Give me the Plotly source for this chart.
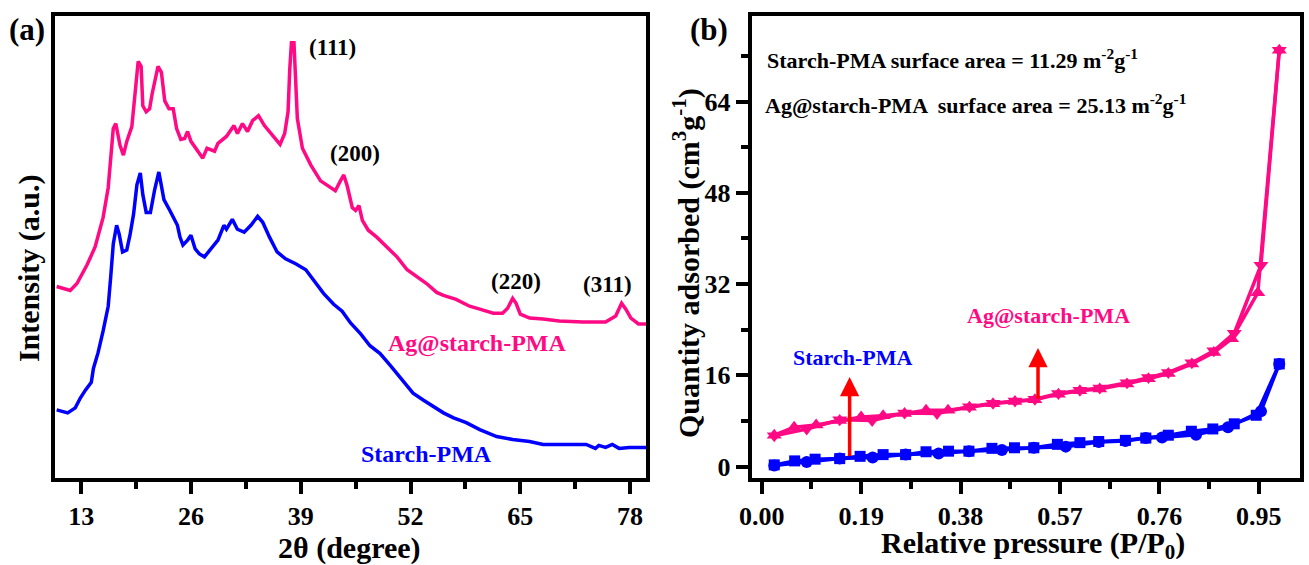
import plotly.graph_objects as go

# ---------------- (a) XRD data ----------------
xrd_ag_2theta = [10.1, 11.7, 12.5, 13.7, 14.65, 15.6, 16.2, 16.6, 16.8, 17.1, 17.6, 18.0, 18.4, 19.0, 19.4,
                 19.75, 20.1, 20.3, 20.7, 21.1, 21.4, 22.1, 22.5, 22.9, 23.4, 23.9, 24.3, 24.8, 25.25, 25.6,
                 26.0, 26.8, 27.4, 27.9, 28.8, 29.2, 30.2, 31.1, 31.5, 32.1, 32.7, 33.3, 34.0, 34.7, 35.85,
                 36.55, 37.1, 37.5, 37.7, 37.9, 38.2, 38.4, 38.6, 39.2, 40.2, 41.35, 42.3, 43.1, 43.7, 44.1,
                 44.5, 45.1, 45.5, 45.9, 46.3, 47.0, 48.0, 49.2, 50.4, 51.6, 52.7, 53.9, 55.1, 55.9, 57.4,
                 59.0, 60.2, 61.8, 62.9, 63.5, 64.1, 64.5, 65.0, 66.1, 67.7, 69.6, 72.4, 75.1, 76.3, 77.0,
                 77.5, 78.1, 79.0, 79.9]
xrd_ag_int = [190, 186, 193, 212, 230, 260, 290, 327, 350, 355, 333, 323, 337, 352, 383,
              418, 413, 373, 367, 370, 385, 413, 407, 378, 370, 370, 350, 339, 340, 347,
              337, 328, 320, 330, 327, 335, 342, 353, 345, 355, 347, 358, 363, 353, 342,
              334, 345, 367, 410, 437, 437, 393, 360, 330, 313, 297, 291, 287, 297, 303,
              292, 270, 267, 272, 257, 247, 240, 230, 220, 207, 200, 193, 184, 181, 177,
              170, 167, 163, 163, 168, 178, 173, 162, 158, 157, 155, 154, 154, 160, 173,
              167, 158, 152, 152]

xrd_st_2theta = [10.1, 10.7, 11.4, 12.3, 12.9, 13.5, 14.2, 14.45, 15.0, 15.6, 16.2, 16.5, 16.8, 17.2, 17.5,
                 17.9, 18.4, 18.8, 19.2, 19.6, 20.0, 20.3, 20.7, 21.2, 21.7, 22.2, 22.8, 23.5, 24.4, 24.7,
                 25.05, 25.6, 26.0, 26.5, 27.0, 27.6, 28.4, 29.2, 29.9, 30.2, 30.9, 31.5, 32.3, 33.1, 33.9,
                 34.5, 35.3, 36.2, 37.2, 38.4, 39.6, 40.8, 41.7, 42.9, 43.9, 44.9, 46.1, 47.2, 48.4, 49.6,
                 50.8, 51.6, 52.3, 53.5, 54.7, 55.9, 57.1, 58.6, 60.2, 62.2, 64.1, 66.1, 67.7, 70.0, 72.8,
                 73.9, 74.3, 75.1, 75.9, 76.7, 77.9, 79.9]
xrd_st_int = [65, 64, 62, 67, 77, 85, 93, 107, 123, 145, 170, 200, 233, 252, 243,
              225, 227, 243, 263, 293, 305, 283, 265, 265, 288, 306, 278, 267, 252, 240,
              232, 237, 242, 228, 223, 220, 228, 237, 252, 248, 258, 248, 245, 252, 261,
              255, 240, 225, 218, 213, 207, 193, 183, 172, 165, 153, 142, 130, 122, 110,
              98, 90, 82, 75, 68, 62, 57, 52, 45, 38, 35, 33, 30, 30, 30,
              26, 29, 27, 30, 26, 27, 27]

xrd_ticks = [13, 26, 39, 52, 65, 78]
hkl_labels = ["(111)", "(200)", "(220)", "(311)"]
hkl_x = [42.8, 45.45, 64.5, 75.3]
hkl_y = [432, 325, 195, 192]

# ---------------- (b) BET data ----------------
ag_ads_p = [0.024, 0.062, 0.104, 0.149, 0.190, 0.232, 0.273, 0.314, 0.356, 0.397, 0.442, 0.484, 0.522,
            0.567, 0.608, 0.646, 0.698, 0.739, 0.777, 0.822, 0.864, 0.898, 0.948, 0.989]
ag_ads_q = [5.5, 6.9, 7.3, 8.1, 8.7, 8.9, 9.3, 9.9, 9.9, 10.4, 11.0, 11.4, 11.7,
            12.7, 13.3, 13.6, 14.5, 15.4, 16.3, 18.0, 20.0, 22.4, 30.5, 73.0]
ag_des_p = [0.989, 0.954, 0.903, 0.864, 0.822, 0.777, 0.739, 0.698, 0.646, 0.608, 0.567, 0.522, 0.484,
            0.442, 0.397, 0.335, 0.273, 0.211, 0.149, 0.086, 0.024]
ag_des_q = [73.0, 35.3, 23.4, 20.3, 18.2, 16.5, 15.6, 14.7, 13.8, 13.4, 12.8, 11.8, 11.5,
            11.1, 10.5, 9.3, 9.4, 8.1, 8.2, 6.6, 5.4]

st_ads_p = [0.024, 0.063, 0.102, 0.149, 0.188, 0.232, 0.275, 0.314, 0.357, 0.396, 0.440, 0.483, 0.520,
            0.565, 0.608, 0.644, 0.695, 0.734, 0.777, 0.821, 0.862, 0.903, 0.945, 0.989]
st_ads_q = [0.3, 1.0, 1.3, 1.4, 1.8, 2.1, 2.1, 2.6, 2.7, 2.7, 3.2, 3.3, 3.3,
            3.9, 4.2, 4.4, 4.6, 5.0, 5.5, 6.2, 6.6, 7.5, 9.0, 18.0]
st_des_p = [0.989, 0.954, 0.891, 0.830, 0.765, 0.734, 0.695, 0.644, 0.581, 0.520, 0.459, 0.396, 0.338,
            0.275, 0.212, 0.149, 0.086, 0.024]
st_des_q = [18.0, 9.7, 6.9, 5.6, 5.1, 5.0, 4.5, 4.3, 3.5, 3.3, 2.9, 2.7, 2.3,
            2.1, 1.6, 1.4, 0.8, 0.2]

bet_yticks = [0, 16, 32, 48, 64]

# ---------------- styling ----------------
PINK = "#ff0a84"
BLUE = "#0000ff"
RED = "#ff0000"
FONT = "Liberation Serif"

W, H = 1309, 565
ML, MR, MT, MB = 55, 5, 16, 87
PW = W - ML - MR
PH = H - MT - MB


def px(xp):
    return (xp - ML) / PW


def py(yp):
    return (H - MB - yp) / PH


fig = go.Figure()

fig.add_trace(go.Scatter(x=xrd_ag_2theta, y=xrd_ag_int, mode="lines",
                         line=dict(color=PINK, width=3.5), xaxis="x", yaxis="y", showlegend=False))
fig.add_trace(go.Scatter(x=xrd_st_2theta, y=xrd_st_int, mode="lines",
                         line=dict(color=BLUE, width=3.5), xaxis="x", yaxis="y", showlegend=False))

fig.add_trace(go.Scatter(x=ag_ads_p, y=ag_ads_q, mode="lines+markers",
                         line=dict(color=PINK, width=3.5),
                         marker=dict(symbol="triangle-up", size=13, color=PINK),
                         xaxis="x2", yaxis="y2", showlegend=False))
fig.add_trace(go.Scatter(x=ag_des_p, y=ag_des_q, mode="lines+markers",
                         line=dict(color=PINK, width=3.5),
                         marker=dict(symbol="triangle-down", size=13, color=PINK),
                         xaxis="x2", yaxis="y2", showlegend=False))
fig.add_trace(go.Scatter(x=st_ads_p, y=st_ads_q, mode="lines+markers",
                         line=dict(color=BLUE, width=3.5),
                         marker=dict(symbol="square", size=11, color=BLUE),
                         xaxis="x2", yaxis="y2", showlegend=False))
fig.add_trace(go.Scatter(x=st_des_p, y=st_des_q, mode="lines+markers",
                         line=dict(color=BLUE, width=3.5),
                         marker=dict(symbol="circle", size=12, color=BLUE),
                         xaxis="x2", yaxis="y2", showlegend=False))

tickfont = dict(family=FONT, size=26, color="black", weight="bold")
axcommon = dict(showline=True, linewidth=4, linecolor="black", mirror=True, showgrid=False,
                zeroline=False, ticklen=12, tickwidth=3.5, tickcolor="black",
                tickfont=tickfont)
minor_common = dict(ticks="outside", ticklen=7, tickwidth=3.5, tickcolor="black")

fig.update_layout(
    width=W, height=H,
    margin=dict(l=ML, r=MR, t=MT, b=MB),
    paper_bgcolor="white", plot_bgcolor="white",
    xaxis=dict(domain=[0, px(648)], range=[9.9, 79.9], tickmode="array", tickvals=xrd_ticks,
               ticks="outside", minor=dict(tick0=6.5, dtick=13, **minor_common),
               anchor="y", **axcommon),
    yaxis=dict(domain=[0, 1], range=[-4, 464], showticklabels=False, ticks="", anchor="x",
               **axcommon),
    xaxis2=dict(domain=[px(754), 1], range=[-0.019, 1.0286], tickmode="linear", tick0=0, dtick=0.19,
                tickformat=".2f", ticks="outside",
                minor=dict(tick0=0.095, dtick=0.19, **minor_common),
                anchor="y2", **axcommon),
    yaxis2=dict(domain=[0, 1], range=[-2.0, 79], tickmode="array", tickvals=bet_yticks,
                ticks="outside", minor=dict(tick0=8, dtick=16, **minor_common),
                anchor="x2", **axcommon),
)


def txt(text, x, y, size, color="black", angle=0, xref="paper", yref="paper", xanchor="center"):
    return dict(text=text, x=x, y=y, xref=xref, yref=yref, showarrow=False, textangle=angle,
                xanchor=xanchor, yanchor="middle",
                font=dict(family=FONT, size=size, color=color, weight="bold"))


ann = []
# panel letters
ann.append(txt("(a)", px(27), py(30), 31))
ann.append(txt("(b)", px(711), py(30), 31))
# axis titles
ann.append(txt("2θ (degree)", px(350), py(548), 30))
ann.append(txt("Intensity (a.u.)", px(29), py(268), 30, angle=-90))
ann.append(txt("Relative pressure (P/P<sub>0</sub>)", px(1036), py(545), 30))
ann.append(txt("Quantity adsorbed (cm<sup>3</sup>g<sup>-1</sup>)", px(688), py(263), 30, angle=-90))
# hkl labels
for t, xx, yy in zip(hkl_labels, hkl_x, hkl_y):
    ann.append(txt(t, xx, yy, 23, xref="x", yref="y"))
# series labels panel a
ann.append(txt("Ag@starch-PMA", 59.9, 132, 24, color=PINK, xref="x", yref="y"))
ann.append(txt("Starch-PMA", 53.9, 20, 24, color=BLUE, xref="x", yref="y"))
# panel b texts
ann.append(txt("Starch-PMA surface area = 11.29 m<sup>-2</sup>g<sup>-1</sup>", 0.006, 71.5, 22,
               xref="x2", yref="y2", xanchor="left"))
ann.append(txt("Ag@starch-PMA  surface area = 25.13 m<sup>-2</sup>g<sup>-1</sup>", 0.002, 63.5, 22,
               xref="x2", yref="y2", xanchor="left"))
ann.append(txt("Ag@starch-PMA", 0.548, 26.5, 22, color=PINK, xref="x2", yref="y2"))
ann.append(txt("Starch-PMA", 0.173, 19.2, 22, color=BLUE, xref="x2", yref="y2"))
# red arrows
for (x0, y0, y1) in [(0.168, 1.6, 15.7), (0.528, 11.65, 20.8)]:
    ann.append(dict(text="", x=x0, y=y1, ax=x0, ay=y0, xref="x2", yref="y2", axref="x2", ayref="y2",
                    showarrow=True, arrowhead=2, arrowsize=1.1, arrowwidth=3.5, arrowcolor=RED))

fig.update_layout(annotations=ann)
fig.write_html("out.html")
